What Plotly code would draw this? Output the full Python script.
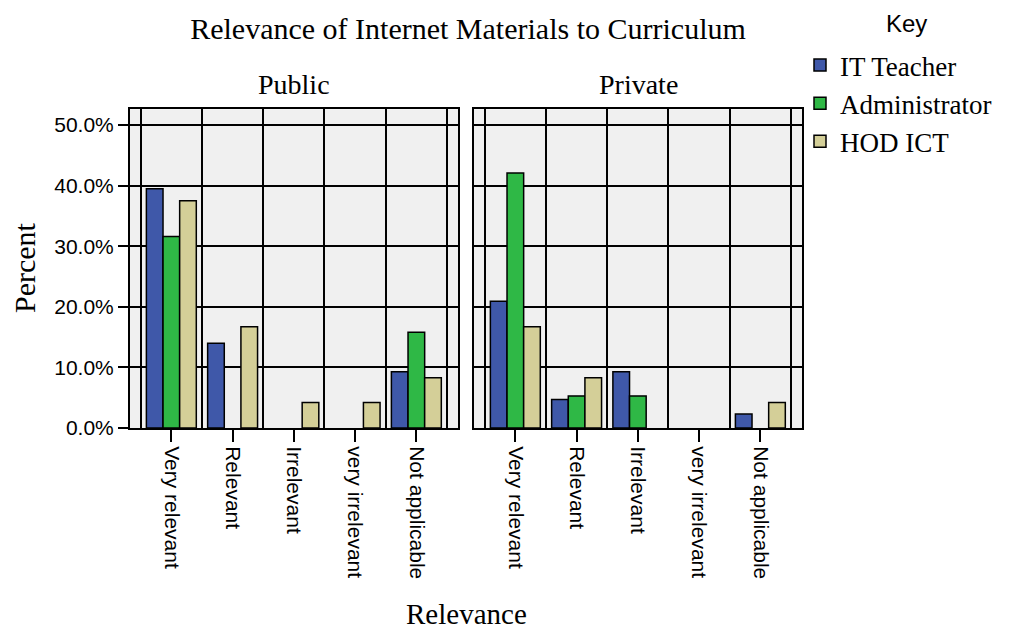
import plotly.graph_objects as go

# ---- data ----
categories = ["Very relevant", "Relevant", "Irrelevant", "very irrelevant", "Not applicable"]
panels = ["Public", "Private"]
series = ["IT Teacher", "Administrator", "HOD ICT"]
colors = ["#3f58a9", "#2fb846", "#d4cf98"]

it_teacher_public = [39.5, 14.0, 0, 0, 9.3]
it_teacher_private = [20.9, 4.7, 9.3, 0, 2.3]
admin_public = [31.6, 0, 0, 0, 15.8]
admin_private = [42.1, 5.3, 5.3, 0, 0]
hod_public = [37.5, 16.7, 4.2, 4.2, 8.3]
hod_private = [16.7, 8.3, 0, 0, 4.2]

y_tick_vals = [0, 10, 20, 30, 40, 50]
y_tick_text = ["0.0%", "10.0%", "20.0%", "30.0%", "40.0%", "50.0%"]

values = {
    "Public": [it_teacher_public, admin_public, hod_public],
    "Private": [it_teacher_private, admin_private, hod_private],
}

SERIF = "Liberation Serif"
SANS = "Liberation Sans"
W = 1010
HV = 619  # effective vertical extent used for placing paper fractions

def fy(px):
    return 1 - px / HV

xpos = list(range(len(categories)))
boundaries = [i - 0.5 for i in range(len(categories) + 1)]

fig = go.Figure()
for p_i, panel in enumerate(panels):
    xa = "x" if p_i == 0 else "x2"
    ya = "y" if p_i == 0 else "y2"
    for s_i, name in enumerate(series):
        vals = values[panel][s_i]
        fig.add_trace(go.Bar(
            x=xpos, y=vals, name=name,
            marker=dict(color=colors[s_i],
                        line=dict(color="black", width=[1.5 if v > 0 else 0 for v in vals])),
            xaxis=xa, yaxis=ya, legendgroup=name, showlegend=(p_i == 0),
        ))

ydom = [fy(428), fy(109.3)]
xdom1 = [130 / W, 458 / W]
xdom2 = [474 / W, 802 / W]
xr = [-0.675, 4.68]
yr = [0, 52.6]

def xaxis_common(dom, anchor):
    return dict(
        domain=dom, anchor=anchor, range=xr,
        tickmode="array", tickvals=xpos, ticktext=categories, tickangle=90,
        ticks="outside", ticklen=12, tickwidth=2, tickcolor="black",
        tickfont=dict(family=SANS, size=21, color="black"),
        showgrid=False, zeroline=False,
        showline=True, mirror=True, linecolor="black", linewidth=2,
        minor=dict(tickmode="array", tickvals=boundaries, showgrid=True,
                   gridcolor="black", gridwidth=1.5, ticks=""),
    )

def yaxis_common(anchor, labels):
    d = dict(
        domain=ydom, anchor=anchor, range=yr,
        tickmode="array", tickvals=y_tick_vals, ticktext=y_tick_text,
        showgrid=True, gridcolor="black", gridwidth=1.5, zeroline=False,
        showline=True, mirror=True, linecolor="black", linewidth=2,
        tickfont=dict(family=SANS, size=21, color="black"),
    )
    if labels:
        d.update(ticks="outside", ticklen=10, tickwidth=2, tickcolor="black")
    else:
        d.update(showticklabels=False, ticks="", matches="y")
    return d

fig.update_layout(
    autosize=True,
    margin=dict(l=0, r=0, t=0, b=0),
    paper_bgcolor="white", plot_bgcolor="#f0f0f0",
    barmode="group", bargap=0.185, bargroupgap=0,
    xaxis=xaxis_common(xdom1, "y"),
    xaxis2=xaxis_common(xdom2, "y2"),
    yaxis=yaxis_common("x", True),
    yaxis2=yaxis_common("x2", False),
    title=dict(text="Relevance of Internet Materials to Curriculum",
               x=468 / W, y=fy(28), xanchor="center", yanchor="middle",
               font=dict(family=SERIF, size=30, color="black")),
    legend=dict(
        x=800 / W, y=fy(41), xanchor="left", yanchor="top",
        bgcolor="rgba(0,0,0,0)", traceorder="normal",
        font=dict(family=SERIF, size=27, color="black"),
        tracegroupgap=0,
    ),
    showlegend=True,
)

annotations = []
for p_i, panel in enumerate(panels):
    dom = xdom1 if p_i == 0 else xdom2
    annotations.append(dict(
        text=panel, xref="paper", yref="paper",
        x=(dom[0] + dom[1]) / 2, y=fy(85), xanchor="center", yanchor="middle",
        showarrow=False, font=dict(family=SERIF, size=28, color="black")))
annotations.append(dict(
    text="Key", xref="paper", yref="paper",
    x=906 / W, y=fy(23), xanchor="center", yanchor="middle",
    showarrow=False, font=dict(family=SANS, size=24, color="black")))
annotations.append(dict(
    text="Relevance", xref="paper", yref="paper",
    x=(xdom1[0] + xdom2[1]) / 2, y=fy(614), xanchor="center", yanchor="middle",
    showarrow=False, font=dict(family=SERIF, size=29, color="black")))
annotations.append(dict(
    text="Percent", xref="paper", yref="paper",
    x=24 / W, y=fy(268), xanchor="center", yanchor="middle", textangle=-90,
    showarrow=False, font=dict(family=SERIF, size=30, color="black")))
fig.update_layout(annotations=annotations)

fig.write_html(
    "out.html",
    config={"displayModeBar": False, "responsive": True},
    default_width="100vw",
    default_height="100vh",
    post_script=(
        "document.documentElement.style.margin='0px';"
        "document.documentElement.style.overflow='hidden';"
        "document.body.style.margin='0px';"
        "document.body.style.overflow='hidden';"
        "window.dispatchEvent(new Event('resize'));"
    ),
)
